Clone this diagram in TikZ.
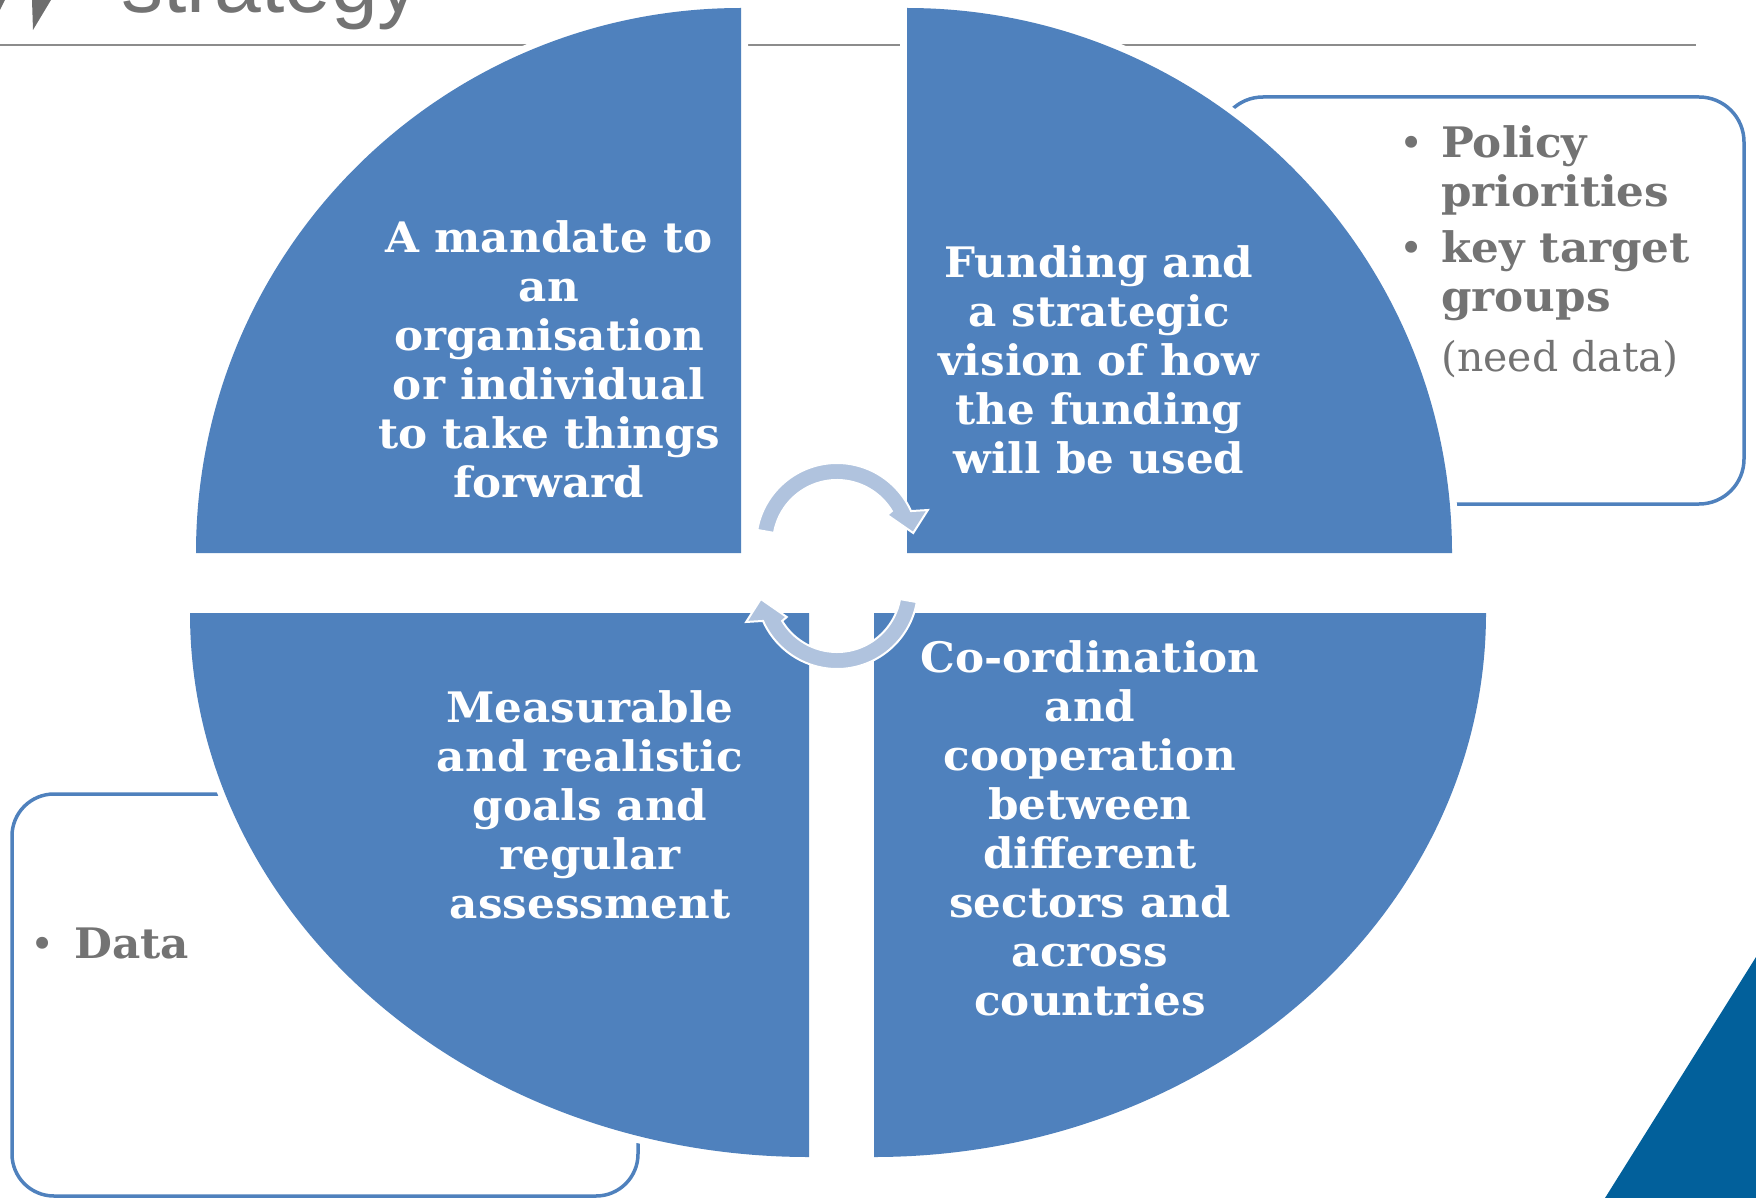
\documentclass[tikz,border=0pt]{standalone}
\usepackage{fontspec}
\setmainfont{DejaVu Serif}[BoldFeatures={FakeStretch=1.04}]
\newfontfamily\titlefont{Liberation Sans}

\definecolor{quadblue}{HTML}{4F81BD}
\definecolor{cyclearrow}{HTML}{B0C3DE}
\definecolor{labelgray}{HTML}{737373}
\definecolor{rulegray}{HTML}{8C8C8C}
\definecolor{cornerblue}{HTML}{02609B}
\definecolor{markgray}{HTML}{6E6E6E}

% centred multi-line block whose reference point is the first baseline
\newcommand{\blocktext}[2]{\parbox[t]{#1pt}{\centering #2}}
\newcommand{\lefttext}[2]{\parbox[t]{#1pt}{\raggedright #2}}

\tikzset{
  quadrant/.style={fill=quadblue, draw=none},
  halo/.style={draw=white, line width=14pt},
  note box/.style={draw=quadblue, line width=3.5pt, rounded corners=45pt},
  quadlabel/.style={anchor=base, inner sep=0pt, text=white,
    font=\bfseries\fontsize{42}{49}\selectfont},
  notelabel/.style={anchor=base west, inner sep=0pt, text=labelgray,
    font=\bfseries\fontsize{42}{49}\selectfont},
  notebullet/.style={anchor=base, inner sep=0pt, text=labelgray,
    font=\fontsize{41}{49}\selectfont},
  arrowbody/.style={fill=cyclearrow, draw=white, line width=2pt, line join=miter},
  cycle arrow/.pic={
    \path[arrowbody] (190:81) arc[start angle=190, end angle=336, radius=81]
      -- (339.5:97) -- (351.8:77) -- (330:58) -- (329:64)
      arc[start angle=329, end angle=190, radius=64] -- cycle;
  }
}

\begin{document}
\begin{tikzpicture}[x=1pt, y=-1pt]
  \useasboundingbox (0,0) rectangle (1756,1198);
  \clip (0,0) rectangle (1756,1198);

  % heading remnants
  \node[anchor=base west, inner sep=0pt, text=labelgray,
        font=\titlefont\fontsize{84}{84}\selectfont] (title) at (121,13) {strategy};
  \fill[markgray] (32,0) -- (51,0) -- (33,30) -- cycle;
  \fill[markgray] (0,0) -- (5,0) -- (0,10) -- cycle;
  \coordinate (ruleL) at (0,45);
  \coordinate (ruleR) at (1696,45);
  \draw[rulegray, line width=2pt] (ruleL) -- (ruleR);

  % side note frames
  \draw[note box] (1218,97) rectangle (1744,504);
  \draw[note box, rounded corners=42pt] (12,794) rectangle (638,1196);

  % corner decoration
  \fill[cornerblue] (1756,957) -- (1605,1198) -- (1756,1198) -- cycle;

  % four quadrants, each with a white margin
  \foreach \sty in {halo, quadrant}{
    \path[\sty] (741,553) -- (196,553) arc[start angle=180, end angle=270, radius=545] -- cycle;
    \path[\sty] (907,553) -- (1452,553) arc[start angle=0, end angle=-90, radius=545] -- cycle;
    \path[\sty] (809,613) -- (190,613) arc[start angle=180, end angle=90, x radius=619, y radius=544] -- cycle;
    \path[\sty] (874,613) -- (1486,613) arc[start angle=0, end angle=90, x radius=612, y radius=544] -- cycle;
  }

  % quadrant labels
  \node[quadlabel] (mandate) at (549,253) {\blocktext{440}{A mandate to\\an\\organisation\\or individual\\to take things\\forward}};
  \node[quadlabel] (funding) at (1099,278) {\blocktext{440}{Funding and\\a strategic\\vision of how\\the funding\\will be used}};
  \node[quadlabel] (goals) at (590,722) {\blocktext{440}{Measurable\\and realistic\\goals and\\regular\\assessment}};
  \node[quadlabel] (coord) at (1090,672) {\blocktext{440}{Co-ordination\\and\\cooperation\\between\\different\\sectors and\\across\\countries}};

  % cycle arrows in the middle
  \pic at (837,544) {cycle arrow};
  \pic[rotate=180] at (837,588) {cycle arrow};

  % note texts
  \node[notebullet] (b1) at (1412,158) {•};
  \node[notelabel] (policy) at (1441,158) {\lefttext{320}{Policy\\priorities}};
  \node[notebullet] (b2) at (1412,263) {•};
  \node[notelabel] (groups) at (1441,263) {\lefttext{320}{key target\\groups}};
  \node[notelabel, font=\fontsize{41}{49}\selectfont] (needdata) at (1441,371) {(need data)};
  \node[notebullet] (b3) at (43,958) {•};
  \node[notelabel] (data) at (74,958) {Data};
\end{tikzpicture}
\end{document}
